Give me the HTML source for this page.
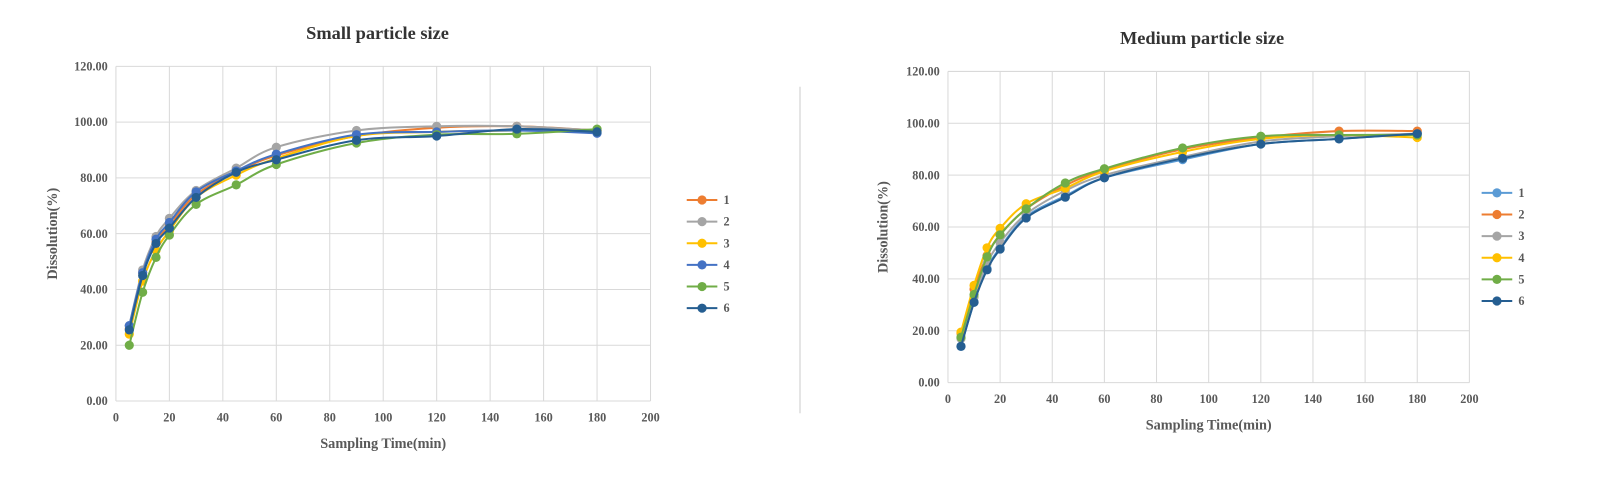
<!DOCTYPE html>
<html><head><meta charset="utf-8">
<style>
body{margin:0;background:#fff;}
svg{display:block;font-family:"Liberation Serif",serif;}
</style></head>
<body>
<svg id="svg" width="1600" height="480" viewBox="0 0 1568 470.4" xmlns="http://www.w3.org/2000/svg">
<line x1="784" y1="85" x2="784" y2="405" stroke="#ccc" stroke-width="1"/>
</svg>
<script>
const times = [5,10,15,20,30,45,60,90,120,150,180];
const xTicks = [0,20,40,60,80,100,120,140,160,180,200];
const yTicks = [0,20,40,60,80,100,120];
const smallNames = ["1","2","3","4","5","6"];
const smallColors = ["#ed7d31","#a5a5a5","#ffc000","#4472c4","#70ad47","#255e91"];
const small1 = [26,46,57,63,74,82,88,95,98,98.5,97];
const small2 = [27,47,59,65.5,75.5,83.5,91,97,98.5,98.5,97];
const small3 = [24,43,54,61,73,81,87,95,96.5,97,97];
const small4 = [27,46,58,64,75,82.5,88.5,95.5,96.5,97,96];
const small5 = [20,39,51.5,59.5,70.5,77.5,84.8,92.5,95.5,95.8,97.5];
const small6 = [25.5,45,56.5,62,73,82,86.5,93.5,95,97.5,96.5];
const medNames = ["1","2","3","4","5","6"];
const medColors = ["#5b9bd5","#ed7d31","#a5a5a5","#ffc000","#70ad47","#255e91"];
const med1 = [14,31,44,52,64,72,79,86,92,94,96];
const med2 = [19,36,49,57,67,76,82,90,94.5,97,97];
const med3 = [17,33,46,54,65,74,80,87,93,95,96];
const med4 = [19.5,37.5,52,59.5,69,75,81.5,89,94,95.5,94.5];
const med5 = [17.5,34,48.5,57,67,77,82.5,90.5,95,95.5,95.5];
const med6 = [14,31,43.5,51.5,63.5,71.5,79,86.5,92,94,96];

const NS="http://www.w3.org/2000/svg";
const svg=document.getElementById('svg');
function mk(tag,attrs,parent){const e=document.createElementNS(NS,tag);for(const k in attrs)e.setAttribute(k,attrs[k]);(parent||svg).appendChild(e);return e;}
function spline(pts){let d=`M${pts[0][0]},${pts[0][1]}`;for(let i=0;i<pts.length-1;i++){const p0=pts[Math.max(i-1,0)],p1=pts[i],p2=pts[i+1],p3=pts[Math.min(i+2,pts.length-1)];const t=0.17;d+=` C${p1[0]+(p2[0]-p0[0])*t},${p1[1]+(p2[1]-p0[1])*t} ${p2[0]-(p3[0]-p1[0])*t},${p2[1]-(p3[1]-p1[1])*t} ${p2[0]},${p2[1]}`;}return d;}

function chart(cfg){
  const g=mk('g',{});
  
  
  const sx=v=>cfg.x0+(cfg.x1-cfg.x0)*v/200, sy=v=>cfg.y0-(cfg.y0-cfg.y1)*v/120;
  xTicks.forEach(t=>{const l=mk('line',{x1:sx(t),x2:sx(t),y1:cfg.y1,y2:cfg.y0,stroke:'#d9d9d9','stroke-width':1},g);
    const tx=mk('text',{x:sx(t),y:cfg.y0+20,'text-anchor':'middle','font-size':12,'font-weight':'bold',fill:'#595959'},g);tx.textContent=t;});
  yTicks.forEach(t=>{const l=mk('line',{x1:cfg.x0,x2:cfg.x1,y1:sy(t),y2:sy(t),stroke:'#d9d9d9','stroke-width':1},g);
    const tx=mk('text',{x:cfg.x0-8,y:sy(t)+4,'text-anchor':'end','font-size':12,'font-weight':'bold',fill:'#595959'},g);tx.textContent=t.toFixed(2);});
  let tt=mk('text',{x:cfg.tx,y:cfg.ty,'text-anchor':'middle','font-size':18,'font-weight':'bold',fill:'#333'},g);tt.textContent=cfg.title;
  let xt=mk('text',{x:(cfg.x0+cfg.x1)/2,y:cfg.y0+46,'text-anchor':'middle','font-size':14,'font-weight':'bold',fill:'#595959'},g);xt.textContent='Sampling Time(min)';
  const yc=(cfg.y0+cfg.y1)/2;
  let yt=mk('text',{x:cfg.yx,y:yc,'text-anchor':'middle','font-size':14,'font-weight':'bold',fill:'#595959',transform:`rotate(-90 ${cfg.yx} ${yc})`},g);yt.textContent='Dissolution(%)';
  cfg.series.forEach((vals,i)=>{
    const pts=times.map((t,j)=>[sx(t),sy(vals[j])]);
    const p=mk('path',{d:spline(pts),fill:'none',stroke:cfg.colors[i],'stroke-width':2},g);
    pts.forEach(pt=>{const c=mk('circle',{cx:pt[0],cy:pt[1],r:4.5,fill:cfg.colors[i]},g);});
    const ly=cfg.ly+i*21.2;
    const lg=mk('g',{},g);
    mk('line',{x1:cfg.lx,x2:cfg.lx+30,y1:ly,y2:ly,stroke:cfg.colors[i],'stroke-width':2},lg);
    mk('circle',{cx:cfg.lx+15,cy:ly,r:4.5,fill:cfg.colors[i]},lg);
    const lt=mk('text',{x:cfg.lx+36,y:ly+4,'font-size':12,'font-weight':'bold',fill:'#595959'},lg);lt.textContent=cfg.names[i];
  });
}
chart({name:'small-particle-chart',title:'Small particle size',tx:370,ty:38,x0:113.6,x1:637.5,y0:393,y1:65,yx:56,lx:673,ly:196,
  series:[small1,small2,small3,small4,small5,small6],names:smallNames,colors:smallColors});
chart({name:'medium-particle-chart',title:'Medium particle size',tx:1178,ty:43,x0:929,x1:1440,y0:375,y1:70,yx:870,lx:1452,ly:189,
  series:[med1,med2,med3,med4,med5,med6],names:medNames,colors:medColors});
</script>
</body></html>
